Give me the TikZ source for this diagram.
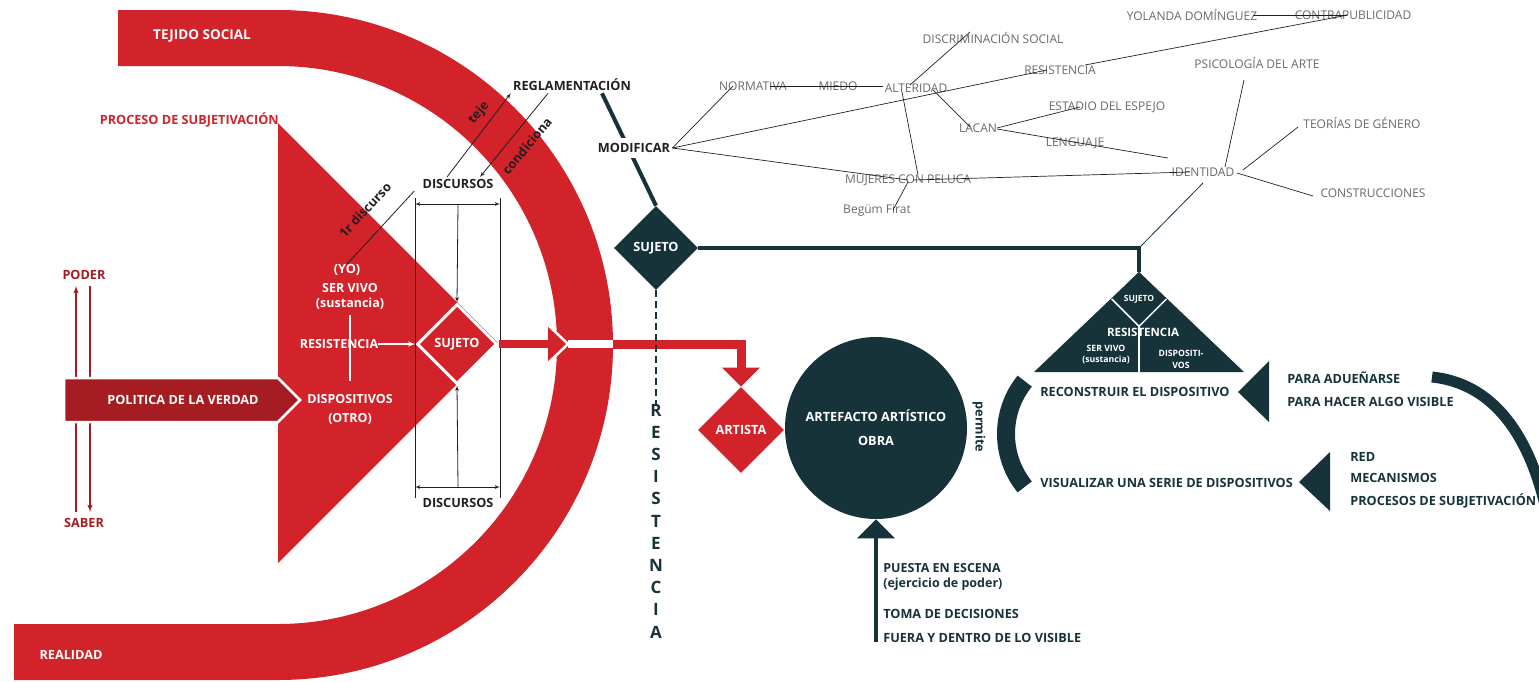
\documentclass[tikz,border=0pt]{standalone}
\usepackage{fontspec}
\setmainfont{Open Sans}
\usepackage{tikz}
\usetikzlibrary{shapes,arrows,positioning}

\definecolor{rojo}{RGB}{210,35,42}
\definecolor{granate}{RGB}{165,28,34}
\definecolor{petroleo}{RGB}{23,51,58}
\definecolor{grismapa}{RGB}{105,105,105}
\definecolor{tinta}{RGB}{35,31,32}

\begin{document}
\begin{tikzpicture}[x=1pt,y=-1pt,>=latex',semithick,
  font=\bfseries\fontsize{12.7}{15}\selectfont]
\tikzstyle{blanco}=[text=white,inner sep=0pt]
\tikzstyle{negro}=[text=tinta,inner sep=2pt]
\tikzstyle{oscuro}=[text=petroleo,inner sep=0pt]
\tikzstyle{mapa}=[text=grismapa,inner sep=0pt,font=\mdseries\fontsize{12}{14}\selectfont]
\tikzstyle{linea mapa}=[draw=tinta,line width=0.7pt]
\tikzstyle{trazo}=[draw=petroleo,line width=4pt]
\tikzstyle{fino}=[draw=tinta,line width=0.8pt]
\useasboundingbox (0,0) rectangle (1539,681);

% la D roja y el triangulo
\fill[rojo] (118,10) -- (278,10) arc[start angle=-90,end angle=90,radius=335]
  -- (14,680) -- (14,624) -- (278,624) arc[start angle=90,end angle=-90,radius=279]
  -- (118,66) -- cycle;
\fill[rojo] (278,123) -- (498,343) -- (278,563) -- cycle;
\node[blanco,font=\bfseries\fontsize{13.5}{15}\selectfont] (tejido) at (202,36) {TEJIDO SOCIAL};
\node[blanco] (realidad) at (71,655) {REALIDAD};
\node[text=rojo,anchor=east,inner sep=0pt] (proceso) at (279,120) {PROCESO DE SUBJETIVACIÓN};

% poder / saber
\node[text=granate,inner sep=6pt] (poder) at (84,275) {PODER};
\node[text=granate,inner sep=6pt] (saber) at (84,523) {SABER};
\draw[granate,line width=1.5pt,->] ([xshift=-8pt]saber.north) -- ([xshift=-8pt]poder.south);
\draw[granate,line width=1.5pt,->] ([xshift=6pt]poder.south) -- ([xshift=6pt]saber.north);
\filldraw[fill=granate,draw=white,line width=2.5pt] (64,378) -- (278,378) -- (300,400) -- (278,422) -- (64,422) -- cycle;
\node[blanco] (politica) at (183,400) {POLITICA DE LA VERDAD};

% sujeto rojo y discursos
\node[diamond,fill=rojo,draw=white,line width=3pt,minimum size=80pt,blanco] (sujeto) at (457,344) {SUJETO};
\node[negro] (discA) at (458,184) {DISCURSOS};
\node[negro] (discB) at (458,503) {DISCURSOS};
\draw[fino] (415,198) -- (415,498) (500,198) -- (500,498);
\draw[fino,<->] (415,204) -- (500,204);
\draw[fino,<->] (415,487) -- (500,487);
\draw[fino,->] (458,204) -- (sujeto.north);
\draw[fino,->] (458,487) -- (sujeto.south);

% flecha roja hacia el artista
\coordinate (punta) at (568,344);
\draw[rojo,line width=8pt] (sujeto.east) -- (548,344);
\fill[rojo] (548,325) -- (punta) -- (548,363) -- cycle;
\draw[white,line width=2.5pt] (548,325) -- (punta) -- (548,363);
\draw[white,line width=8pt] (punta) -- (613,344);
\node[diamond,fill=rojo,minimum size=86pt,blanco] (artista) at (741,430) {ARTISTA};
\draw[rojo,line width=9pt] (613,344) -| ([yshift=19pt]artista.north);
\fill[rojo] ([xshift=-19pt,yshift=19pt]artista.north) -- (artista.north) -- ([xshift=19pt,yshift=19pt]artista.north) -- cycle;

% dentro del triangulo
\node[blanco] (yo) at (347,270) {(YO)};
\node[blanco,align=center,font=\bfseries\fontsize{12.5}{15}\selectfont] (servivo) at (350,296) {SER VIVO\\(sustancia)};
\node[blanco,font=\bfseries\fontsize{12.5}{14}\selectfont] (resA) at (339,344) {RESISTENCIA};
\node[blanco,align=center,font=\bfseries\fontsize{12.5}{19}\selectfont] (dispositivos) at (350,409) {DISPOSITIVOS\\(OTRO)};
\draw[white,line width=1.5pt] ([yshift=-6pt]servivo.south) -- ([yshift=13pt]dispositivos.north);
\draw[white,line width=1.5pt,->] (resA.east) -- (sujeto.west);

% teje / condiciona
\node[negro] (regla) at (572,85) {REGLAMENTACIÓN};
\draw[fino,->] ([xshift=-11pt]discA.north) -- (regla.south west);
\draw[fino,->] ([xshift=-24pt]regla.south) -- ([xshift=22pt]discA.north);
\node[negro,rotate=50] (teje) at (479,113) {teje};
\node[negro,rotate=50] (condiciona) at (527,146) {condiciona};
\draw[fino] ([xshift=-6pt]discA.south west) -- (yo.north);
\node[negro,rotate=47] (discurso1) at (365,210) {1r discurso};

% sujeto oscuro
\node[diamond,fill=petroleo,minimum size=84pt,blanco] (sujetoB) at (656,248) {SUJETO};
\draw[trazo] ([xshift=30pt]regla.south) -- (sujetoB.north);
\node[negro,fill=white,inner ysep=5pt] (modif) at (634,148) {MODIFICAR};
\node[oscuro,align=center,font=\bfseries\fontsize{17}{22.2}\selectfont] (resistV) at (656,521) {R\\E\\S\\I\\S\\T\\E\\N\\C\\I\\A};
\draw[petroleo,line width=2pt,dash pattern=on 7pt off 4pt] (sujetoB.south) -- (resistV.north);

% obra
\node[circle,fill=petroleo,minimum size=182pt,blanco,align=center,font=\bfseries\fontsize{12.7}{24}\selectfont] (obra) at (876,428) {ARTEFACTO ARTÍSTICO\\OBRA};
\coordinate (pie) at (876,642);
\draw[petroleo,line width=4.5pt] (pie) -- ([yshift=-18pt]obra.south);
\fill[petroleo] ([xshift=-19pt,yshift=-19pt]obra.south) -- (obra.south) -- ([xshift=19pt,yshift=-19pt]obra.south) -- cycle;
\node[oscuro,anchor=west,align=left,font=\bfseries\fontsize{12.5}{15}\selectfont] (puesta) at (883,577) {PUESTA EN ESCENA\\(ejercicio de poder)};
\node[oscuro,anchor=west] (toma) at (883,614) {TOMA DE DECISIONES};
\node[oscuro,below=24pt of toma.west,anchor=west] (fuera) {FUERA Y DENTRO DE LO VISIBLE};
\node[oscuro,rotate=-90] (permite) at (979,427) {permite};

% triangulo de la resistencia
\fill[petroleo] (1139,272) -- (1244,372) -- (1034,372) -- cycle;
\node[diamond,fill=petroleo,minimum size=54pt,blanco,font=\bfseries\fontsize{8.5}{9}\selectfont] (sujetoC) at (1139,299) {SUJETO};
\coordinate (baseRes) at (1139,372);
\draw[white,line width=1.5pt] (sujetoC.west) -- (sujetoC.south) -- (sujetoC.east);
\draw[white,line width=1.5pt] (sujetoC.south) -- (baseRes);
\node[blanco,font=\bfseries\fontsize{11.5}{13}\selectfont] (resistB) at (1143,332) {RESISTENCIA};
\node[blanco,align=center,font=\bfseries\fontsize{8.7}{11}\selectfont] (servivoB) at (1106,355) {SER VIVO\\(sustancia)};
\node[blanco,align=center,font=\bfseries\fontsize{8.7}{12}\selectfont] (disposB) at (1181,359) {DISPOSITI-\\VOS};
\coordinate (esquina) at (1139,248);
\draw[trazo] (sujetoB.east) -| (sujetoC.north);

% reconstruir / visualizar
\draw[petroleo,line width=18pt] (1090,434) ++(141:84) arc[start angle=141,end angle=219,radius=84];
\draw[petroleo,line width=11pt] (1432,377) .. controls (1490,383) and (1527,430) .. (1545,505);
\fill[petroleo] (1238,392) -- (1269,361) -- (1269,422) -- cycle;
\fill[petroleo] (1299,482) -- (1330,452) -- (1330,511) -- cycle;
\node[oscuro,anchor=west] (reconstruir) at (1040,392) {RECONSTRUIR EL DISPOSITIVO};
\node[oscuro,anchor=west] (visualizar) at (1040,483) {VISUALIZAR UNA SERIE DE DISPOSITIVOS};
\node[oscuro,anchor=west] (adue) at (1287,378) {PARA ADUEÑARSE};
\node[oscuro,anchor=west] (hacer) at (1287,402) {PARA HACER ALGO VISIBLE};
\node[oscuro,anchor=west] (red) at (1350,457) {RED};
\node[oscuro,anchor=west] (mecanismos) at (1350,478) {MECANISMOS};
\node[oscuro,anchor=west] (procesos) at (1350,501) {PROCESOS DE SUBJETIVACIÓN};

% mapa de conceptos
\node[mapa] (normativa) at (753,86) {NORMATIVA};
\node[mapa] (miedo) at (838,86) {MIEDO};
\node[mapa] (alteridad) at (916,88) {ALTERIDAD};
\node[mapa] (discrim) at (993,38) {DISCRIMINACIÓN SOCIAL};
\node[mapa] (resistMap) at (1060,70) {RESISTENCIA};
\node[mapa] (estadio) at (1107,107) {ESTADIO DEL ESPEJO};
\node[mapa] (lacan) at (978,128) {LACAN};
\node[mapa] (lenguaje) at (1075,143) {LENGUAJE};
\node[mapa] (mujeres) at (908,180) {MUJERES CON PELUCA};
\node[mapa] (begum) at (877,211) {Begüm Firat};
\node[mapa] (identidad) at (1203,172) {IDENTIDAD};
\node[mapa] (psico) at (1257,63) {PSICOLOGÍA DEL ARTE};
\node[mapa] (teorias) at (1362,123) {TEORÍAS DE GÉNERO};
\node[mapa] (construcciones) at (1373,193) {CONSTRUCCIONES};
\node[mapa] (yolanda) at (1192,15) {YOLANDA DOMÍNGUEZ};
\node[mapa] (contra) at (1353,15) {CONTRAPUBLICIDAD};

\draw[linea mapa] (modif.east) -- ([xshift=-20pt]normativa.center);
\draw[linea mapa] (modif.east) -- ([xshift=-13pt]resistMap.center);
\draw[linea mapa] ([xshift=25pt,yshift=5pt]resistMap.center) -- ([xshift=-5pt]contra.center);
\draw[linea mapa] (modif.east) -- (mujeres.center);
\draw[linea mapa] ([xshift=17pt]normativa.center) -- ([xshift=-33pt,yshift=2pt]alteridad.center);
\draw[linea mapa] ([xshift=-6pt,yshift=3pt]alteridad.center) -- ([xshift=-23pt,yshift=6pt]discrim.center);
\draw[linea mapa] ([xshift=-14pt,yshift=-4pt]alteridad.center) -- ([xshift=10pt,yshift=5pt]mujeres.center);
\draw[linea mapa] ([xshift=17pt,yshift=-2pt]alteridad.center) -- ([xshift=-8pt,yshift=1pt]lacan.center);
\draw[linea mapa] ([xshift=19pt]lacan.center) -- ([xshift=-27pt]estadio.center);
\draw[linea mapa] ([xshift=19pt,yshift=-1pt]lacan.center) -- ([xshift=-35pt,yshift=14pt]identidad.center);
\draw[linea mapa] ([xshift=5pt]mujeres.center) -- ([xshift=-13pt]identidad.center);
\draw[linea mapa] ([yshift=-2pt]mujeres.center) -- ([xshift=16pt,yshift=1pt]begum.center);
\draw[linea mapa] ([xshift=61pt]yolanda.center) -- ([xshift=-6pt]contra.center);
\draw[linea mapa] ([xshift=-13pt,yshift=-17pt]psico.center) -- ([xshift=22pt,yshift=5pt]identidad.center);
\draw[linea mapa] ([xshift=40pt,yshift=2pt]identidad.center) -- ([xshift=-64pt,yshift=-4pt]teorias.center);
\draw[linea mapa] ([xshift=34pt,yshift=-1pt]identidad.center) -- ([xshift=-60pt,yshift=-3pt]construcciones.center);
\draw[petroleo,line width=0.8pt] ([yshift=-11pt]identidad.center) -- (esquina);
\end{tikzpicture}
\end{document}
